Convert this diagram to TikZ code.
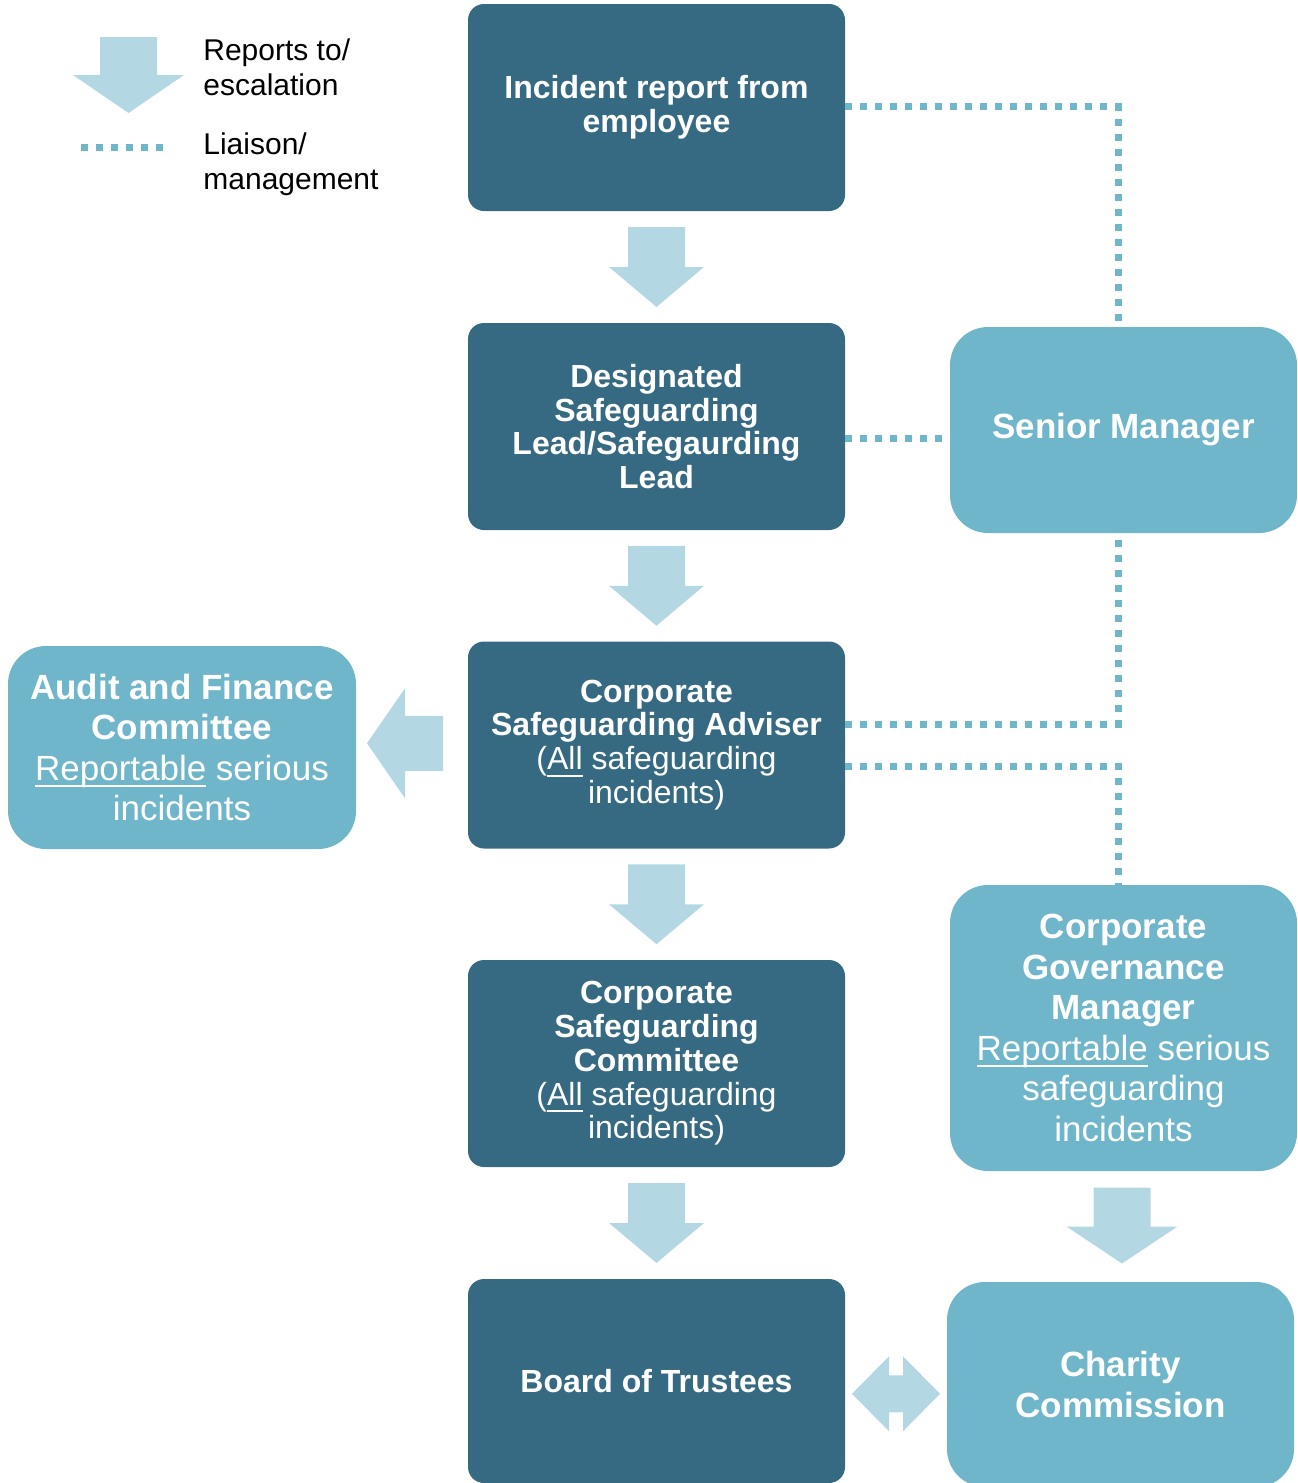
\documentclass[tikz,border=0pt]{standalone}
\usepackage{fontspec}
\setmainfont{Liberation Sans}
\usetikzlibrary{calc}
\definecolor{darkteal}{HTML}{366A82}
\definecolor{lightteal}{HTML}{6FB6CB}
\definecolor{arrowblue}{HTML}{B3D8E3}
% underline with a slightly heavier rule
\newcommand{\ulword}[1]{\setbox0\hbox{#1}\rlap{\rule[-3.4pt]{\wd0}{0.9pt}}\box0\relax}

\begin{document}
\begin{tikzpicture}[x=0.5pt,y=-0.5pt,
  darkbox/.style={fill=darkteal, rounded corners=8pt, minimum width=188.5pt,
    minimum height=103.5pt, text=white, align=center, inner sep=0pt,
    font=\fontsize{16}{16.9}\selectfont\bfseries},
  lightbox/.style={fill=lightteal, rounded corners=19pt, minimum width=173.5pt,
    text=white, align=center, inner sep=0pt,
    font=\fontsize{17.5}{20.25}\selectfont\bfseries},
  liaison/.style={draw=lightteal, line width=3.5pt, dash pattern=on 3.5pt off 4pt},
  legendtext/.style={anchor=west, align=left, inner sep=0pt,
    font=\fontsize{15}{17.5}\selectfont},
  pics/blockdown/.style n args={3}{code={
    \fill[arrowblue] (-28.5,-#1) -- (28.5,-#1) -- (28.5,0) -- (#2,0)
      -- (0,#3) -- (-#2,0) -- (-28.5,0) -- cycle;}},
  pics/blockleft/.style={code={
    \fill[arrowblue] (-45,0) -- (-7,-55) -- (-7,-27.5) -- (31,-27.5)
      -- (31,27.5) -- (-7,27.5) -- (-7,55) -- cycle;}},
  pics/blockboth/.style={code={
    \fill[arrowblue] (-44,0) -- (-7,-37.5) -- (-7,-18.5) -- (7,-18.5)
      -- (7,-37.5) -- (44,0) -- (7,37.5) -- (7,18.5) -- (-7,18.5)
      -- (-7,37.5) -- cycle;}},
]
\useasboundingbox (0,0) rectangle (1297,1483);
\clip (0,0) rectangle (1297,1483);

% legend
\pic at (128.5,75) {blockdown={38}{55.5}{38}};
\draw[liaison] (81,147) -- (163,147);
\node[legendtext] (lgreport) at (203,67) {Reports to/\\escalation};
\node[legendtext] (lgliaison) at (203,164) {Liaison/\\management};

% main column
\node[darkbox] (inc) at (656.5,107.5) {Incident report from\\employee};
\node[darkbox] (dsl) at (656.5,426.5) {Designated\\Safeguarding\\Lead/Safegaurding\\Lead};
\node[darkbox] (csa) at (656.5,745) {Corporate\\Safeguarding Adviser\\
  \mdseries(\ulword{All} safeguarding\\\mdseries incidents)};
\node[darkbox] (csc) at (656.5,1063.5) {Corporate\\Safeguarding\\Committee\\
  \mdseries(\ulword{All} safeguarding\\\mdseries incidents)};
\node[darkbox, minimum height=102pt] (board) at (656.5,1381) {Board of Trustees};

% side boxes
\node[lightbox, minimum height=103pt] (sm) at (1123.5,430) {Senior Manager};
\node[lightbox, minimum width=174pt, minimum height=101.5pt] (audit) at (182,747.5)
  {Audit and Finance\\Committee\\\mdseries\ulword{Reportable} serious\\\mdseries incidents};
\node[lightbox, minimum height=143pt] (cgm) at (1123.5,1028)
  {Corporate\\Governance\\Manager\\\mdseries\ulword{Reportable} serious\\
   \mdseries safeguarding\\\mdseries incidents};
\node[lightbox, minimum height=102.5pt] (charity) at (1120.5,1384.5) {Charity\\Commission};

% escalation arrows
\pic at ($(inc.south)!0.5!(dsl.north)$) {blockdown={40}{47.5}{40}};
\pic at ($(dsl.south)!0.5!(csa.north)$) {blockdown={40}{47.5}{40}};
\pic at ($(csa.south)!0.5!(csc.north)$) {blockdown={40}{47.5}{40}};
\pic at ($(csc.south)!0.5!(board.north)$) {blockdown={40}{47.5}{40}};
\pic at ($(cgm.south)!0.5!(charity.north)$) {blockdown={39}{55.5}{37}};
\pic at ($(audit.east)!0.5!(csa.west)+(0,-3)$) {blockleft};
\pic at ($(board.east)!0.5!(charity.west)+(0,11)$) {blockboth};

% liaison lines
\draw[liaison] ($(inc.east)+(0,-1)$) -| ($(sm.north)+(-5.5,0)$);
\draw[liaison] ($(dsl.east)+(0,11.5)$) -- ($(sm.west)+(-7,8)$);
\draw[liaison] ($(csa.east)+(0,-20.5)$) -| ($(sm.south)+(-5.5,4)$);
\draw[liaison] ($(csa.east)+(0,21)$) -| ($(cgm.north)+(-5.5,0)$);
\end{tikzpicture}
\end{document}
